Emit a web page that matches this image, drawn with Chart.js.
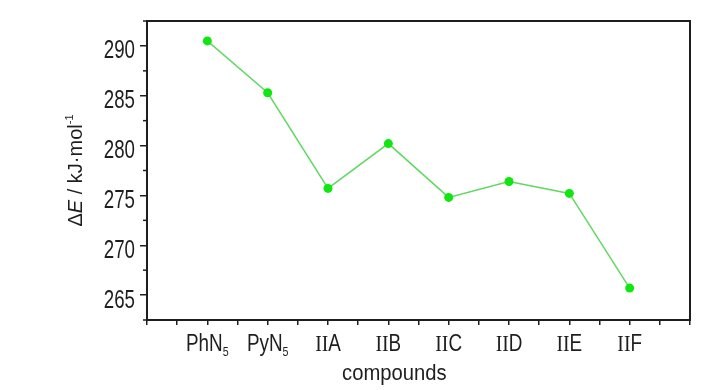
<!DOCTYPE html>
<html>
<head>
<meta charset="utf-8">
<script src="https://cdn.jsdelivr.net/npm/chart.js@4/dist/chart.umd.min.js"></script>
<style>
  html, body { margin: 0; padding: 0; background: #fff; }
  #wrap { width: 728px; height: 390px; }
</style>
</head>
<body>
<div id="wrap"><canvas id="myChart" width="728" height="390"></canvas></div>
<script>
// data
var categories = ['PhN5', 'PyN5', 'IIA', 'IIB', 'IIC', 'IID', 'IIE', 'IIF'];
var energies = [290.5, 285.3, 275.7, 280.2, 274.8, 276.4, 275.2, 265.7];
var yMin = 262.5, yMax = 292.5, yStep = 2.5;

var ink = '#1e1e1e';
var font = 'Liberation Sans, Arial, sans-serif';
var narrowY = 0.72; // the tick labels use a condensed face
var narrowX = 0.82;

var points = categories.map(function (c, i) { return { x: i, y: energies[i] }; });

// draw a run of text pieces, squeezed horizontally by hs
function drawRun(c, parts, x, y, align, hs) {
  var w = 0;
  parts.forEach(function (p) { c.font = p.f; p.w = c.measureText(p.t).width * hs; w += p.w; });
  var px = align === 'center' ? x - w / 2 : (align === 'right' ? x - w : x);
  parts.forEach(function (p) {
    c.save();
    c.font = p.f;
    c.translate(px, y + (p.dy || 0));
    c.scale(hs, 1);
    c.fillText(p.t, 0, 0);
    c.restore();
    px += p.w;
  });
}

// frame, short minor ticks, tick labels and axis titles
var decor = {
  id: 'decor',
  afterDraw: function (chart) {
    var c = chart.ctx, a = chart.chartArea;
    var xs = chart.scales.x, ys = chart.scales.y;
    c.save();
    c.strokeStyle = ink;
    c.lineWidth = 2;
    c.strokeRect(a.left, a.top, a.right - a.left, a.bottom - a.top);

    c.fillStyle = ink;
    c.textAlign = 'left';
    c.textBaseline = 'alphabetic';

    // y ticks: short minor marks and labels on the major ones
    c.lineWidth = 1.5;
    ys.ticks.forEach(function (t) {
      var py = ys.getPixelForValue(t.value);
      if (Math.abs(t.value % 5) > 0.01) {
        c.beginPath();
        c.moveTo(a.left - 4, py);
        c.lineTo(a.left, py);
        c.stroke();
      } else {
        drawRun(c, [{ t: String(t.value), f: '26px ' + font }], a.left - 12, py + 12.5, 'right', narrowY);
      }
    });

    // category labels
    categories.forEach(function (name, i) {
      var parts;
      var m = name.match(/^(.*?)(\d+)$/);
      if (m) {
        parts = [{ t: m[1], f: '23px ' + font }, { t: m[2], f: '13px ' + font, dy: 5 }];
      } else if (name.indexOf('II') === 0) {
        parts = [{ t: 'II', f: '24px Liberation Serif, serif' }, { t: name.slice(2), f: '23px ' + font }];
      } else {
        parts = [{ t: name, f: '23px ' + font }];
      }
      drawRun(c, parts, xs.getPixelForValue(i), 351, 'center', narrowX);
    });

    // x title
    drawRun(c, [{ t: 'compounds', f: '22px ' + font }], xs.getPixelForValue(3.1), 380, 'center', 0.92);

    // y title, rotated
    c.translate(82, (a.top + a.bottom) / 2);
    c.rotate(-Math.PI / 2);
    drawRun(c, [
      { t: '\u0394', f: '20px ' + font },
      { t: 'E', f: 'italic 20px ' + font },
      { t: ' / kJ\u00b7mol', f: '20px ' + font },
      { t: '-1', f: '11px ' + font, dy: -9 }
    ], 0, 0, 'center', 1);
    c.restore();
  }
};

var myChart = new Chart(document.getElementById('myChart').getContext('2d'), {
  type: 'line',
  data: {
    datasets: [{
      label: 'dE',
      data: points,
      borderColor: '#62d862',
      borderWidth: 1.5,
      backgroundColor: '#10e610',
      pointBackgroundColor: '#10e610',
      pointBorderWidth: 0,
      pointRadius: 4.5,
      tension: 0,
      fill: false
    }]
  },
  options: {
    responsive: false,
    animation: false,
    events: [],
    layout: { padding: { left: 0, top: 21, right: 38, bottom: 0 } },
    plugins: { legend: { display: false }, tooltip: { enabled: false } },
    scales: {
      x: {
        type: 'linear',
        min: -1,
        max: 8,
        afterFit: function (s) { s.height = 70; },
        border: { display: false },
        grid: { drawOnChartArea: false, tickLength: 5, color: ink, lineWidth: 1.5 },
        ticks: { stepSize: 0.5, autoSkip: false, maxRotation: 0, callback: function () { return ''; } }
      },
      y: {
        min: yMin,
        max: yMax,
        afterFit: function (s) { s.width = 147; },
        border: { display: false },
        grid: {
          drawOnChartArea: false,
          tickLength: 7,
          lineWidth: 1.5,
          tickColor: function (ctx) {
            return ctx.tick && Math.abs(ctx.tick.value % 5) < 0.01 ? ink : 'rgba(0,0,0,0)';
          }
        },
        ticks: { stepSize: yStep, autoSkip: false, callback: function () { return ''; } }
      }
    }
  },
  plugins: [decor]
});
</script>
</body>
</html>
